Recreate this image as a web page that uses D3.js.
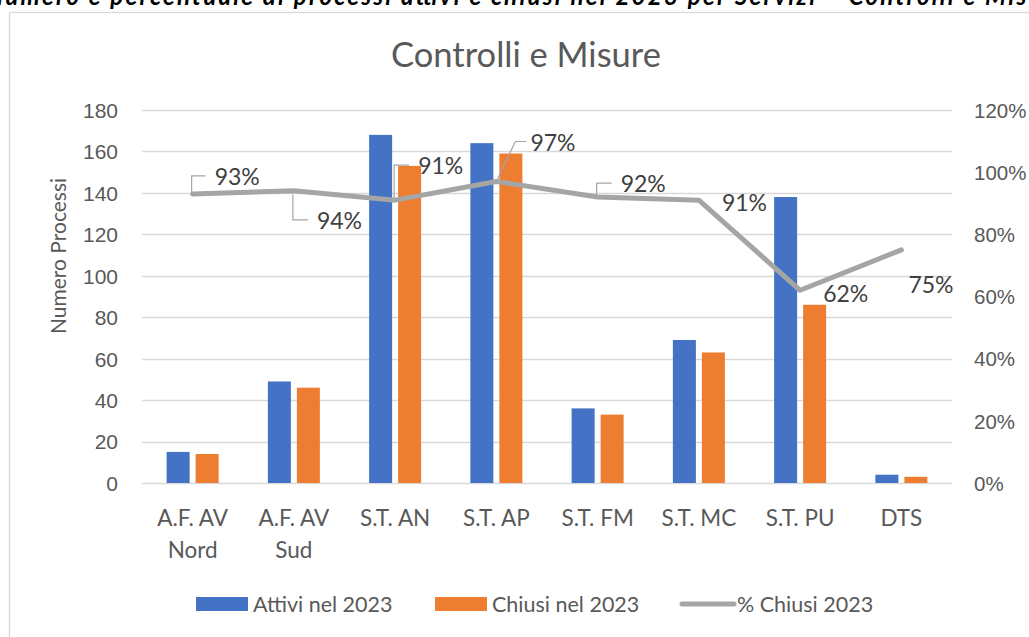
<!DOCTYPE html>
<html>
  <head>
    <meta charset="utf-8" />
    <title>Controlli e Misure</title>
    <script src="https://d3js.org/d3.v7.min.js"></script>
    <style>
      body {
        margin: 0;
        background: #fff;
        font-family: Lato, "Open Sans", sans-serif;
      }
      .grid line {
        stroke: #d9d9d9;
        stroke-width: 1.3px;
      }
      .axis text {
        fill: #595959;
        font-size: 21px;
      }
      .cat text {
        fill: #595959;
        font-size: 22.5px;
      }
      .lbl {
        fill: #404040;
        font-size: 23px;
      }
    </style>
  </head>
  <body>
    <div id="chart"></div>
    <script>
      const categories = [
        ["A.F. AV", "Nord"],
        ["A.F. AV", "Sud"],
        ["S.T. AN"],
        ["S.T. AP"],
        ["S.T. FM"],
        ["S.T. MC"],
        ["S.T. PU"],
        ["DTS"],
      ];
      const attivi = [15, 49, 168, 164, 36, 69, 138, 4];
      const chiusi = [14, 46, 153, 159, 33, 63, 86, 3];
      const pctChiusi = [0.93, 0.94, 0.91, 0.97, 0.92, 0.91, 0.62, 0.75];
      const leftTicks = [0, 20, 40, 60, 80, 100, 120, 140, 160, 180];
      const rightTicks = [0, 0.2, 0.4, 0.6, 0.8, 1.0, 1.2];
      const seriesNames = ["Attivi nel 2023", "Chiusi nel 2023", "% Chiusi 2023"];

      // label placement for the % labels (pixels from the point): dx, dy, leader type
      const labelPos = [
        { dx: 22, dy: -17, leader: "v" },
        { dx: 23, dy: 30, leader: "v" },
        { dx: 23, dy: -34, leader: "v" },
        { dx: 34, dy: -39, leader: "d" },
        { dx: 23, dy: -13, leader: "v" },
        { dx: 23, dy: 3, leader: null },
        { dx: 23, dy: 4, leader: null },
        { dx: 7, dy: 35, leader: null },
      ];

      const W = 1029,
        H = 637;
      const blue = "#4472c4",
        orange = "#ed7d31",
        grey = "#a5a5a5";

      const svg = d3
        .select("#chart")
        .append("svg")
        .attr("width", W)
        .attr("height", H);

      svg.append("rect").attr("width", W).attr("height", H).attr("fill", "#fff");

      // document caption above the chart (cropped at the top, as in the source page)
      svg
        .append("text")
        .attr("x", -14)
        .attr("y", 5)
        .attr("textLength", 1080)
        .attr("lengthAdjust", "spacing")
        .style("font-size", "24px")
        .style("font-weight", "bold")
        .style("font-style", "italic")
        .style("fill", "#000")
        .text(
          "Numero e percentuale di processi attivi e chiusi nel 2023 per Servizi \u2013 Controlli e Misure"
        );

      // chart frame (only top and left edges are visible)
      svg
        .append("rect")
        .attr("x", 9.5)
        .attr("y", 12.5)
        .attr("width", W + 20)
        .attr("height", H + 20)
        .attr("fill", "#fff")
        .attr("stroke", "#d9d9d9")
        .attr("stroke-width", 1.3);

      const x0 = 142,
        x1 = 952,
        yTop = 110,
        yBot = 483;

      const x = d3
        .scaleBand()
        .domain(d3.range(categories.length))
        .range([x0, x1])
        .padding(0);
      const xs = d3
        .scaleBand()
        .domain([0, 1])
        .range([-26, 26])
        .paddingInner(0.207);
      const y = d3.scaleLinear().domain([0, 180]).range([yBot, yTop]);
      const y2 = d3.scaleLinear().domain([0, 1.2]).range([yBot, yTop]);

      // title
      svg
        .append("text")
        .attr("x", 526)
        .attr("y", 67)
        .attr("text-anchor", "middle")
        .style("font-size", "34.5px")
        .style("fill", "#595959")
        .text("Controlli e Misure");

      // gridlines
      svg
        .append("g")
        .attr("class", "grid")
        .selectAll("line")
        .data(leftTicks)
        .join("line")
        .attr("x1", x0)
        .attr("x2", x1)
        .attr("y1", (d) => Math.round(y(d)) + 0.5)
        .attr("y2", (d) => Math.round(y(d)) + 0.5);

      // left axis
      const yAxis = svg
        .append("g")
        .attr("class", "axis")
        .attr("transform", "translate(" + (x0 - 24) + ",0)")
        .call(d3.axisLeft(y).tickValues(leftTicks).tickSize(0).tickPadding(0));
      yAxis.select(".domain").remove();
      yAxis.selectAll("text").attr("dy", "0.35em");

      // right axis
      const yAxis2 = svg
        .append("g")
        .attr("class", "axis")
        .attr("transform", "translate(" + 974 + ",0)")
        .call(
          d3
            .axisRight(y2)
            .tickValues(rightTicks)
            .tickSize(0)
            .tickPadding(0)
            .tickFormat(d3.format(".0%"))
        );
      yAxis2.select(".domain").remove();
      yAxis2.selectAll("text").attr("dy", "0.35em").style("font-size", "20.5px");

      // y axis title
      svg
        .append("text")
        .attr("transform", "translate(66,256) rotate(-90)")
        .attr("text-anchor", "middle")
        .style("font-size", "21px")
        .style("fill", "#595959")
        .text("Numero Processi");

      // category labels
      const cat = svg
        .append("g")
        .attr("class", "cat")
        .selectAll("text")
        .data(categories)
        .join("text")
        .attr("text-anchor", "middle")
        .attr("x", (d, i) => x(i) + x.bandwidth() / 2)
        .attr("y", 526);
      cat
        .selectAll("tspan")
        .data((d) => d)
        .join("tspan")
        .attr("x", function () {
          return this.parentNode.getAttribute("x");
        })
        .attr("dy", (d, i) => (i === 0 ? 0 : 32))
        .text((d) => d);

      // bars
      const groups = svg
        .append("g")
        .selectAll("g")
        .data(categories.map((c, i) => i))
        .join("g")
        .attr("transform", (i) => "translate(" + (x(i) + x.bandwidth() / 2) + ",0)");

      groups
        .selectAll("rect")
        .data((i) => [
          { s: 0, v: attivi[i] },
          { s: 1, v: chiusi[i] },
        ])
        .join("rect")
        .attr("x", (d) => xs(d.s))
        .attr("width", xs.bandwidth())
        .attr("y", (d) => y(d.v))
        .attr("height", (d) => yBot - y(d.v))
        .attr("fill", (d) => (d.s === 0 ? blue : orange));

      // line
      const pts = pctChiusi.map((v, i) => [x(i) + x.bandwidth() / 2, y2(v)]);
      svg
        .append("path")
        .datum(pts)
        .attr("d", d3.line())
        .attr("fill", "none")
        .attr("stroke", grey)
        .attr("stroke-width", 5)
        .attr("stroke-linejoin", "round")
        .attr("stroke-linecap", "round");

      // leader lines and labels
      const lab = svg.append("g");
      pts.forEach((p, i) => {
        const o = labelPos[i];
        const tx = p[0] + o.dx,
          ty = p[1] + o.dy;
        if (o.leader === "v") {
          const ly = ty - 1;
          lab
            .append("path")
            .attr(
              "d",
              "M" + (p[0] - 1) + "," + (p[1] + (o.dy < 0 ? -2 : 4)) +
                "L" + (p[0] - 1) + "," + ly +
                "L" + (tx - 9) + "," + ly
            )
            .attr("fill", "none")
            .attr("stroke", grey)
            .attr("stroke-width", 1.2);
        } else if (o.leader === "d") {
          const ly = ty - 1;
          lab
            .append("path")
            .attr(
              "d",
              "M" + p[0] + "," + p[1] +
                "L" + (tx - 15) + "," + ly +
                "L" + (tx - 4) + "," + ly
            )
            .attr("fill", "none")
            .attr("stroke", grey)
            .attr("stroke-width", 1.2);
        }
        lab
          .append("text")
          .attr("class", "lbl")
          .attr("x", tx)
          .attr("y", ty)
          .attr("dy", "0.35em")
          .text(d3.format(".0%")(pctChiusi[i]));
      });

      // legend
      const legX = [196, 435, 680];
      const leg = svg
        .append("g")
        .selectAll("g")
        .data(seriesNames)
        .join("g")
        .attr("transform", (d, i) => "translate(" + legX[i] + ",604)");
      leg.each(function (d, i) {
        const g = d3.select(this);
        if (i < 2) {
          g.append("rect")
            .attr("x", 0)
            .attr("y", -7)
            .attr("width", 52)
            .attr("height", 14)
            .attr("fill", i === 0 ? blue : orange);
        } else {
          g.append("line")
            .attr("x1", 2)
            .attr("x2", 54)
            .attr("stroke", grey)
            .attr("stroke-width", 5)
            .attr("stroke-linecap", "round");
        }
        g.append("text")
          .attr("x", i < 2 ? 57 : 57)
          .attr("dy", "0.35em")
          .style("font-size", "21.5px")
          .style("fill", "#595959")
          .text(d);
      });
    </script>
  </body>
</html>
